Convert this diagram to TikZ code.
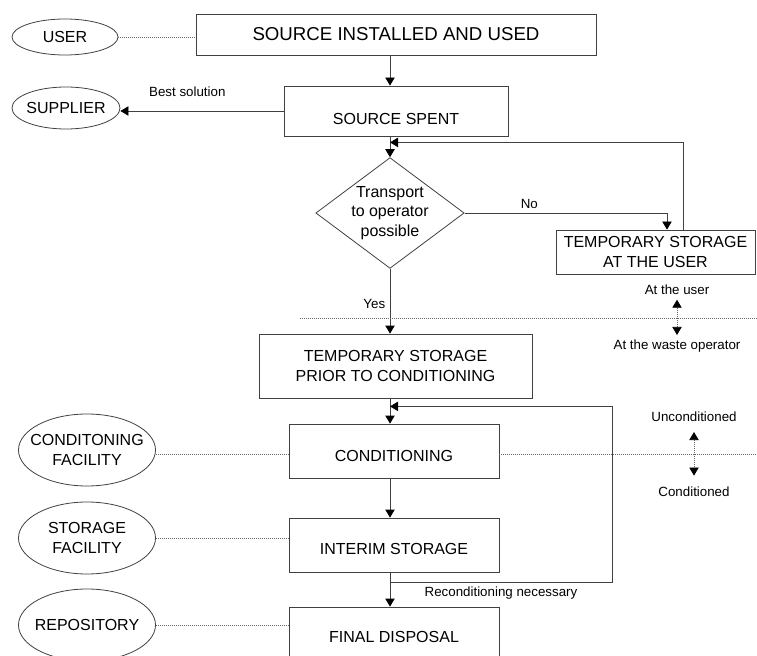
\documentclass[tikz,border=0pt]{standalone}
\usepackage{fontspec}
\setmainfont{Liberation Sans}
\usepackage{tikz}
\usetikzlibrary{shapes.geometric, arrows.meta, calc}

\begin{document}
\begin{tikzpicture}[x=0.75pt, y=-0.75pt, line width=0.6pt,
  box/.style={draw=black!75, rectangle, inner sep=0pt, align=center, font=\fontsize{12}{14.5}\selectfont},
  oval/.style={draw=black!75, ellipse, inner xsep=-8pt, inner ysep=0pt, align=center, font=\fontsize{12}{14.5}\selectfont},
  decision/.style={draw=black!75, diamond, aspect=1.34, inner sep=0pt, align=center, font=\fontsize{12}{14.5}\selectfont},
  tip/.tip={Triangle[length=6pt,width=7pt,color=black]},
  arr/.style={draw=black!75, -tip},
  dots/.style={draw=black!60, densely dotted, line width=0.5pt},
  lbl/.style={font=\fontsize{10}{12}\selectfont}]
\useasboundingbox (0,0) rectangle (757,656);
\clip (0,0) rectangle (757,656);

% main chain
\node[box, minimum width=300pt, minimum height=30.75pt, font=\fontsize{14}{17}\selectfont] (top) at (396,34.5) {SOURCE INSTALLED AND USED};
\node[box, minimum width=168pt, minimum height=37.5pt, text height=20.6pt, text depth=0pt] (spent) at (396,111) {SOURCE SPENT};
\node[decision, minimum width=110.25pt, minimum height=82.5pt] (dia) at (390,213) {Transport\\to operator\\possible};
\node[box, minimum width=149.25pt, minimum height=33pt] (tmpuser) at (655.5,252) {TEMPORARY STORAGE\\AT THE USER};
\node[box, minimum width=204.75pt, minimum height=48pt] (prior) at (395.5,366) {TEMPORARY STORAGE\\PRIOR TO CONDITIONING};
\node[box, minimum width=157.5pt, minimum height=40.5pt, text height=15.5pt, text depth=0pt] (cond) at (394,451) {CONDITIONING};
\node[box, minimum width=157.5pt, minimum height=40.5pt, text height=14.6pt, text depth=0pt] (interim) at (394,545) {INTERIM STORAGE};
\node[box, minimum width=157.5pt, minimum height=40.5pt, text height=13pt, text depth=0pt] (final) at (394,634) {FINAL DISPOSAL};

% actors
\node[oval, minimum width=79.5pt, minimum height=27pt] (user) at (65,37) {USER};
\node[oval, minimum width=81pt, minimum height=31.5pt] (supplier) at (66,108) {SUPPLIER};
\node[oval, minimum width=102.75pt, minimum height=54pt] (condfac) at (87,450) {CONDITONING\\FACILITY};
\node[oval, minimum width=102.75pt, minimum height=54pt] (storfac) at (87,538) {STORAGE\\FACILITY};
\node[oval, minimum width=102.75pt, minimum height=54pt] (repo) at (87,625) {REPOSITORY};

% side labels
\node[lbl] (atuser) at (677,290) {At the user};
\node[lbl] (atwaste) at (677,346) {At the waste operator};
\node[lbl] (uncond) at (694,417) {Unconditioned};
\node[lbl] (condd) at (694,492) {Conditioned};
\coordinate (opl) at (300,318);
\coordinate (opr) at (757,318);
\coordinate (condr) at (757,454);

% flow
\draw[arr] (dia |- top.south) -- (dia |- spent.north);
\draw[arr] (spent.west) -- node[lbl, above=7pt, pos=0.59] (best) {Best solution} (spent.west -| supplier.east);
\draw[arr] (dia |- spent.south) -- (dia.north);
\draw[arr] (dia.east) -| node[lbl, above, pos=0.16] (no) {No} ($(tmpuser.north)+(11.5,0)$);
\draw[arr] ($(tmpuser.north)+(27.5,0)$) |- ($(dia |- spent.south)+(0,6)$);
\draw[arr] (dia.south) -- node[lbl, left, pos=0.55] (yes) {Yes} (dia |- prior.north);
\draw[arr] (dia |- prior.south) -- (dia |- cond.north);
\draw[arr] (dia |- cond.south) -- (dia |- interim.north);
\draw[arr] (dia |- interim.south) -- (dia |- final.north);
\draw[arr] ($(dia |- interim.south)+(0,10)$) -- node[lbl, below, pos=0.5] (recond) {Reconditioning necessary} ++(222,0) |- ($(dia |- prior.south)+(0,8)$);

% boundaries
\draw[dots] (user.east) -- (user.east -| top.west);
\draw[dots] (condfac.east |- condr) -- (cond.west |- condr);
\draw[dots] (cond.east |- condr) -- (condr);
\draw[dots] (storfac.east) -- (storfac.east -| interim.west);
\draw[dots] (repo.east) -- (repo.east -| final.west);
\draw[dots] (opl) -- (opr);
\draw[dots, tip-tip] (atuser.south) -- (atwaste.north);
\draw[dots, tip-tip, shorten <=4pt, shorten >=5pt] (uncond.south) -- (condd.north);
\end{tikzpicture}
\end{document}
